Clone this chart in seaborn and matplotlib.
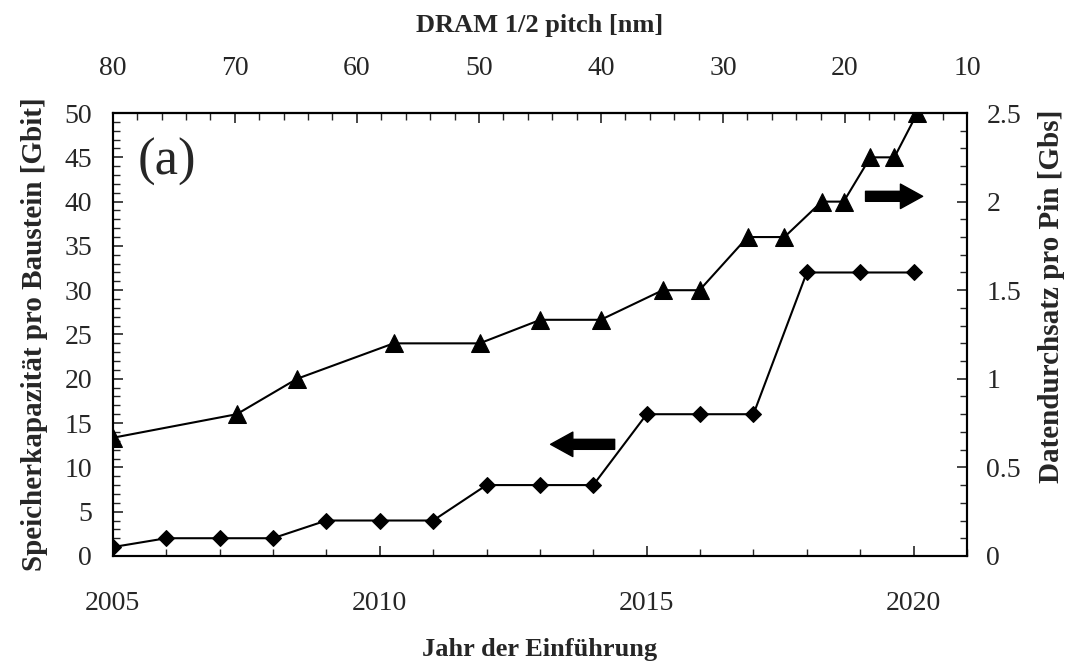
import numpy as np
import matplotlib
matplotlib.use("Agg")
import matplotlib.pyplot as plt
from matplotlib.ticker import MultipleLocator
import pandas as pd
import seaborn as sns

## Speicherkapazitaet pro Baustein (linke Achse)
cap_years = [2005, 2006, 2007, 2008, 2009, 2010, 2011, 2012,
             2013, 2014, 2015, 2016, 2017, 2018, 2019, 2020]
cap_gbit = [1, 2, 2, 2, 4, 4, 4, 8, 8, 8, 16, 16, 16, 32, 32, 32]

## Datendurchsatz pro Pin (rechte Achse)
rate_years = [2005.0, 2007.32, 2008.45, 2010.26, 2011.87, 2013.01, 2014.14, 2015.30,
              2015.99, 2016.89, 2017.58, 2018.28, 2018.69, 2019.19, 2019.64, 2020.07]
rate_gbs = [0.667, 0.8, 1.0, 1.2, 1.2, 1.333, 1.333, 1.5,
            1.5, 1.8, 1.8, 2.0, 2.0, 2.25, 2.25, 2.5]

x_ticks = [2005, 2010, 2015, 2020]
pitch_ticks = [80, 70, 60, 50, 40, 30, 20, 10]

sns.set_style("ticks")
plt.rcParams['font.family'] = ['Liberation Serif', 'DejaVu Serif']

df_cap = pd.DataFrame({"Jahr": cap_years, "Gbit": cap_gbit})
df_rate = pd.DataFrame({"Jahr": rate_years, "Gbs": rate_gbs})

fig = plt.figure(figsize=(10.75, 6.65), dpi=100)
ax = fig.add_axes([0.105, 0.164, 0.7945, 0.666])
ax2 = ax.twinx()

sns.lineplot(data=df_cap, x="Jahr", y="Gbit", ax=ax, color="black", marker="D",
             markersize=8, markeredgecolor="black", linewidth=1.5, estimator=None)
sns.lineplot(data=df_rate, x="Jahr", y="Gbs", ax=ax2, color="black", marker="^",
             markersize=13, markeredgecolor="black", linewidth=1.5, estimator=None)

ax.set_xlim(2005, 2021)
ax.set_ylim(0, 50)
ax2.set_ylim(0, 2.5)

# ticks
tick_fs = 20
ax.set_xticks(x_ticks)
ax.xaxis.set_minor_locator(MultipleLocator(1))
ax.yaxis.set_major_locator(MultipleLocator(5))
ax.yaxis.set_minor_locator(MultipleLocator(1))
ax2.set_yticks([0, 0.5, 1, 1.5, 2, 2.5])
ax2.set_yticklabels(["0", "0.5", "1", "1.5", "2", "2.5"])
ax2.yaxis.set_minor_locator(MultipleLocator(0.1))

ax.tick_params(axis="x", which="both", direction="in", labelsize=tick_fs, pad=25, top=False)
ax.tick_params(axis="y", which="both", direction="in", labelsize=tick_fs, pad=15)
ax.tick_params(which="major", length=7, width=1.2)
ax.tick_params(which="minor", length=5, width=1.0)
ax2.tick_params(axis="y", which="both", direction="in", labelsize=tick_fs, pad=14)
ax2.tick_params(which="major", length=7, width=1.2)
ax2.tick_params(which="minor", length=5, width=1.0)

# top axis: DRAM half pitch
def year_to_pitch(y):
    return 80 - (np.asarray(y) - 2005) * 70.0 / 16.0

def pitch_to_year(p):
    return 2005 + (80 - np.asarray(p)) * 16.0 / 70.0

top = ax.secondary_xaxis("top", functions=(year_to_pitch, pitch_to_year))
top.set_xticks(pitch_ticks)
top.xaxis.set_minor_locator(MultipleLocator(2))
top.tick_params(which="both", direction="in", labelsize=tick_fs, pad=23)
top.tick_params(which="major", length=7, width=1.2)
top.tick_params(which="minor", length=5, width=1.0)
top.set_xlabel("DRAM 1/2 pitch [nm]", fontsize=19, fontweight="bold", labelpad=17)

for a in (ax, ax2):
    for s in a.spines.values():
        s.set_linewidth(1.5)
        s.set_color("black")
top.spines["top"].set_linewidth(1.5)

ax.set_xlabel("Jahr der Einführung", fontsize=19, fontweight="bold", labelpad=16)
ax.set_ylabel("Speicherkapazität pro Baustein [Gbit]", fontsize=21, fontweight="bold", labelpad=12)
ax2.set_ylabel("Datendurchsatz pro Pin [Gbs]", fontsize=21, fontweight="bold")
# the right label sits a bit above the middle in the original
ax2.yaxis.set_label_coords(1.083, 0.587)

# (a) label
ax.text(0.063, 0.89, "(a)", transform=ax.transAxes, fontsize=38, ha="center", va="center")

# arrows showing which axis each series belongs to
arrow_style = "simple,head_length=1.0,head_width=1.1,tail_width=0.45"
ax.annotate("", xy=(2013.2, 12.6), xytext=(2014.4, 12.6),
            arrowprops=dict(arrowstyle=arrow_style, color="black", mutation_scale=16,
                            shrinkA=0, shrinkB=0))
ax.annotate("", xy=(2020.17, 40.6), xytext=(2019.1, 40.6),
            arrowprops=dict(arrowstyle=arrow_style, color="black", mutation_scale=16,
                            shrinkA=0, shrinkB=0))

fig.savefig("out.png", dpi=100)
